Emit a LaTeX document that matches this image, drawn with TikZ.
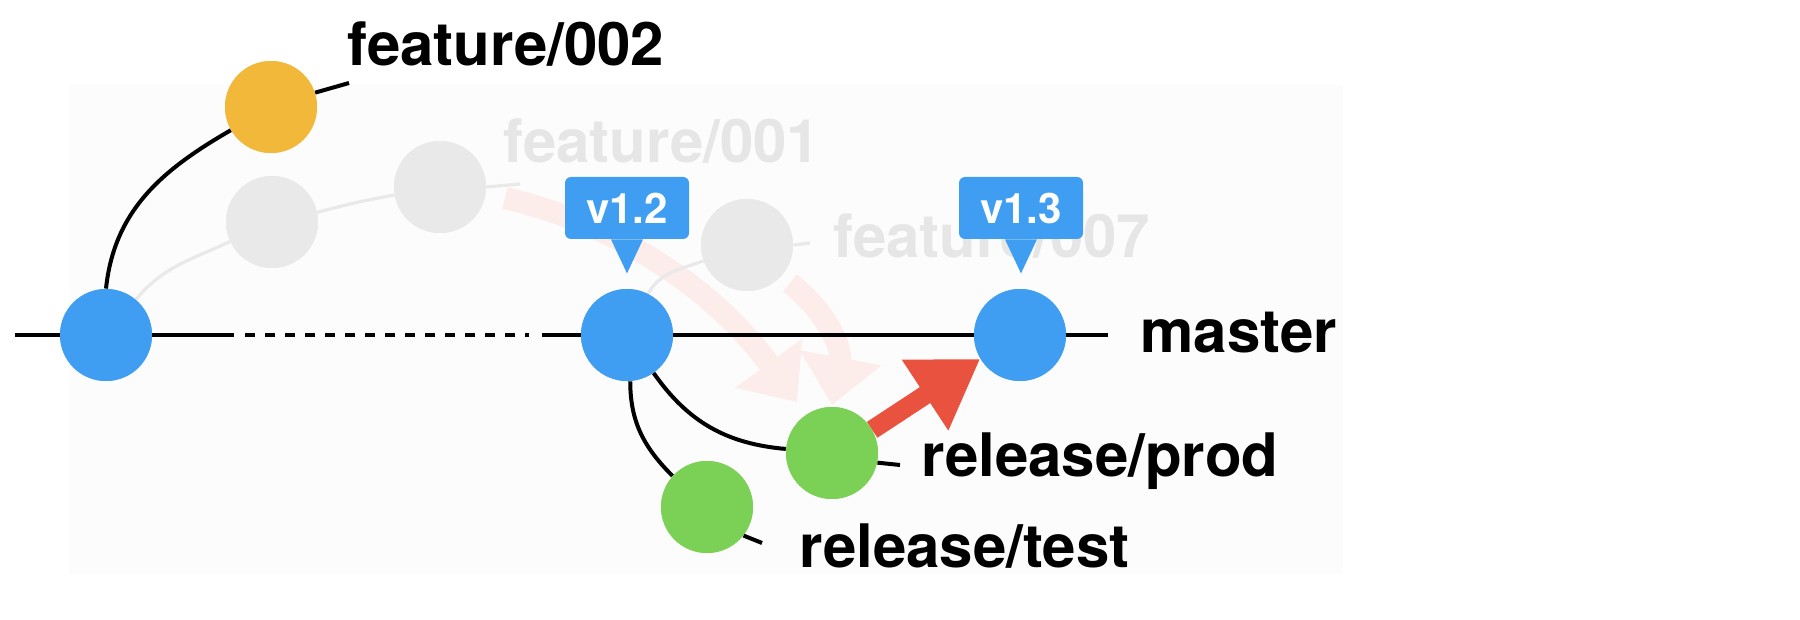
\documentclass[tikz,border=0pt]{standalone}
\usepackage{fontspec}
\setmainfont{TeX Gyre Heros}
\usetikzlibrary{arrows.meta}

\definecolor{commitblue}{HTML}{3F9EF2}
\definecolor{featorange}{HTML}{F1B83A}
\definecolor{relgreen}{HTML}{7BD155}
\definecolor{oldgray}{HTML}{E9E9E9}
\definecolor{oldtext}{HTML}{E6E6E6}
\definecolor{mergered}{HTML}{E8523F}
\definecolor{fadedred}{HTML}{FCECEA}
\definecolor{panel}{HTML}{FCFCFC}

\begin{document}
\begin{tikzpicture}[x=0.5pt,y=-0.5pt,
  commit/.style={circle,minimum size=46pt,inner sep=0pt,draw=none},
  bluec/.style={commit,fill=commitblue},
  orangec/.style={commit,fill=featorange},
  greenc/.style={commit,fill=relgreen},
  grayc/.style={commit,fill=oldgray},
  branch/.style={line width=2pt,black},
  oldbranch/.style={line width=1.6pt,oldgray},
  mainline/.style={line width=2.4pt,black},
  lbl/.style={anchor=base west,inner sep=0pt,font=\fontsize{30pt}{36pt}\selectfont\bfseries},
  oldlbl/.style={lbl,text=oldtext},
  tag/.style={fill=commitblue,rounded corners=3pt,minimum width=62pt,minimum height=31pt,
    inner sep=0pt,text=white,font=\fontsize{21pt}{25pt}\selectfont\bfseries},
  fadedarrow/.style={line width=11pt,fadedred,-{Triangle[length=24pt,width=40pt]}},
  mergearrow/.style={line width=9.5pt,mergered,-{Triangle[length=33pt,width=40pt]}}
]
\useasboundingbox (0,0) rectangle (1800,620);
\fill[panel] (69,85) rectangle (1343,574);

% commits
\node[bluec]   (b1)  at (106,335) {};
\node[bluec]   (b2)  at (627,335) {};
\node[bluec]   (b3)  at (1020,335) {};
\node[orangec] (o2)  at (271,107) {};
\node[grayc]   (g1)  at (272,222) {};
\node[grayc]   (g2)  at (440,187) {};
\node[grayc]   (g3)  at (747,245) {};
\node[greenc]  (rp)  at (832,453) {};
\node[greenc]  (rt)  at (707,507) {};

% ends of the master line and of the branch pointers
\coordinate (m0) at (15,335);
\coordinate (m1) at (234,335);
\coordinate (d0) at (245,335);
\coordinate (d1) at (529,335);
\coordinate (m2) at (542,335);
\coordinate (m3) at (1108,335);
\coordinate (o2e) at (349,83);
\coordinate (g2e) at (520,184);
\coordinate (g3e) at (810,243);
\coordinate (rpe) at (900,465);
\coordinate (rte) at (762,543);
\coordinate (fa0) at (505,198);
\coordinate (fa1) at (797,402);
\coordinate (fb0) at (790,283);
\coordinate (fb1) at (832,405);

% old merges, faded
\draw[fadedarrow] (fa0) .. controls (620,225) and (715,290) .. (fa1);
\draw[fadedarrow] (fb0) .. controls (830,315) and (842,350) .. (fb1);

% old feature branches
\draw[oldbranch] (b1.50) to[out=50,in=205] (g1.205);
\draw[oldbranch] (g1.12) to[out=15,in=190] (g2.190);
\draw[oldbranch] (g2.east) -- (g2e);
\draw[oldbranch] (b2.63) to[out=60,in=200] (g3.200);
\draw[oldbranch] (g3.east) -- (g3e);

% master line
\draw[mainline] (m0) -- (m1);
\draw[mainline,dash pattern=on 5pt off 5pt] (d0) -- (d1);
\draw[mainline] (m2) -- (m3);

% live branches
\draw[branch] (b1.north) to[out=84,in=210] (o2.210);
\draw[branch] (o2.18) -- (o2e);
\draw[branch] (b2.305) to[out=305,in=175] (rp.175);
\draw[branch] (b2.274) to[out=270,in=135] (rt.138);
\draw[branch] (rp.-12) -- (rpe);
\draw[branch] (rt.-38) -- (rte);

% redraw commits on top of the lines
\node[bluec]   at (b1) {};
\node[bluec]   at (b2) {};
\node[bluec]   at (b3) {};
\node[orangec] at (o2) {};
\node[grayc]   at (g1) {};
\node[grayc]   at (g2) {};
\node[grayc]   at (g3) {};
\node[greenc]  at (rp) {};
\node[greenc]  at (rt) {};

% faded labels
\node[oldlbl] (f001) at (503,163) {feature/001};
\node[oldlbl] (f007) at (833,258) {feature/007};

% version tags
\node[tag] (t12) at (627,208) {v1.2};
\node[tag] (t13) at (1021,208) {v1.3};
\fill[commitblue] ([xshift=-8pt]t12.south) -- ([xshift=8pt]t12.south) -- ([yshift=-17pt]t12.south) -- cycle;
\fill[commitblue] ([xshift=-8pt]t13.south) -- ([xshift=8pt]t13.south) -- ([yshift=-17pt]t13.south) -- cycle;

% merge into master
\draw[mergearrow] (rp.30) -- (b3.211);

% branch labels
\node[lbl] (f002) at (347,66) {feature/002};
\node[lbl] (mst)  at (1140,353) {master};
\node[lbl] (rpl)  at (921,476) {release/prod};
\node[lbl] (rtl)  at (799,567) {release/test};
\end{tikzpicture}
\end{document}
